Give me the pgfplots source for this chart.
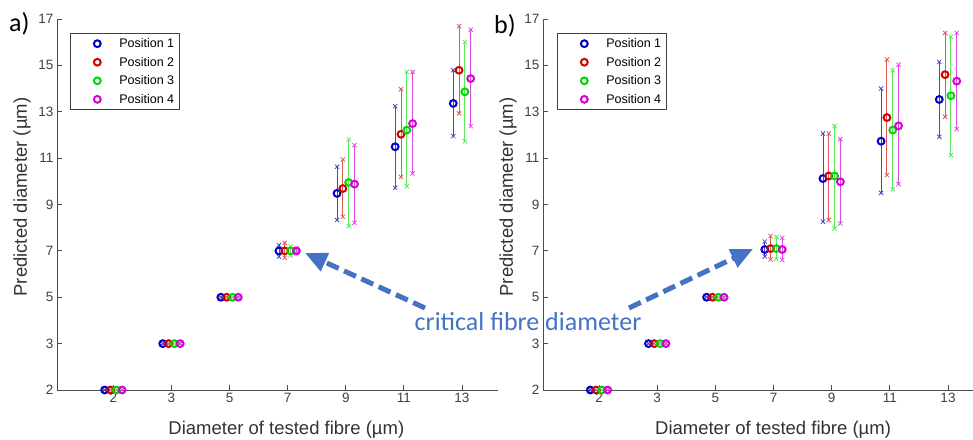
\documentclass[border=0pt]{standalone}
\usepackage{fontspec}
\setmainfont{Liberation Sans}
\newfontfamily\calibri{Carlito}
\usepackage{pgfplots}
\usepackage{pgfplotstable}
\pgfplotsset{compat=1.18}
\usetikzlibrary{arrows.meta}
\definecolor{cB}{RGB}{0,0,200}
\definecolor{cR}{RGB}{215,0,0}
\definecolor{cG}{RGB}{0,215,0}
\definecolor{cM}{RGB}{215,0,215}
\definecolor{eB}{RGB}{70,70,205}
\definecolor{eR}{RGB}{225,90,90}
\definecolor{eG}{RGB}{90,235,90}
\definecolor{eM}{RGB}{225,70,225}
\definecolor{annot}{RGB}{68,114,196}

% Panel a
\pgfplotstableread{
x y ep em
0.85 1 0 0
1.85 3 0 0
2.85 5 0 0
3.85 7 0.25 0.25
4.85 9.48 1.15 1.15
5.85 11.49 1.75 1.77
6.85 13.36 1.43 1.41
}\aB
\pgfplotstableread{
x y ep em
0.95 1 0 0
1.95 3 0 0
2.95 5 0 0
3.95 7 0.35 0.30
4.95 9.69 1.25 1.22
5.95 12.03 1.94 1.84
6.95 14.79 1.90 1.86
}\aR
\pgfplotstableread{
x y ep em
1.05 1 0 0
2.05 3 0 0
3.05 5 0 0
4.05 7 0.20 0.20
5.05 9.95 1.85 1.88
6.05 12.21 2.51 2.42
7.05 13.86 2.15 2.13
}\aG
\pgfplotstableread{
x y ep em
1.15 1 0 0
2.15 3 0 0
3.15 5 0 0
4.15 7 0.10 0.10
5.15 9.88 1.68 1.67
6.15 12.49 2.23 2.15
7.15 14.43 2.11 2.05
}\aM
% Panel b
\pgfplotstableread{
x y ep em
0.85 1 0 0
1.85 3 0 0
2.85 5 0 0
3.85 7.06 0.34 0.30
4.85 10.12 1.94 1.86
5.85 11.73 2.27 2.23
6.85 13.53 1.62 1.61
}\bB
\pgfplotstableread{
x y ep em
0.95 1 0 0
1.95 3 0 0
2.95 5 0 0
3.95 7.10 0.54 0.47
4.95 10.23 1.83 1.90
5.95 12.75 2.50 2.48
6.95 14.60 1.80 1.82
}\bR
\pgfplotstableread{
x y ep em
1.05 1 0 0
2.05 3 0 0
3.05 5 0 0
4.05 7.10 0.50 0.45
5.05 10.23 2.15 2.26
6.05 12.21 2.58 2.56
7.05 13.69 2.54 2.56
}\bG
\pgfplotstableread{
x y ep em
1.15 1 0 0
2.15 3 0 0
3.15 5 0 0
4.15 7.06 0.50 0.45
5.15 9.98 1.84 1.80
6.15 12.39 2.64 2.51
7.15 14.32 2.08 2.07
}\bM

\pgfplotsset{
  fibre/.style={
    scale only axis, height=371pt,
    axis lines=left,
    axis line style={-, draw=black!70, line width=0.8pt},
    tick style={draw=black!70, line width=0.8pt},
    tick align=inside, major tick length=5pt,
    ymin=1, ymax=17, ytick={1,3,5,7,9,11,13,15,17},
    yticklabels={2,3,5,7,9,11,13,15,17},
    xtick={1,2,3,4,5,6,7}, xticklabels={2,3,5,7,9,11,13},
    ticklabel style={font=\fontsize{13.5}{15}\selectfont, text=black!75},
    label style={font=\fontsize{18.5}{21}\selectfont, text=black!80},
    xlabel={Diameter of tested fibre (µm)},
    ylabel={Predicted diameter (µm)},
    clip=false,
    legend cell align=left,
    legend style={draw=black!75, line width=0.6pt, font=\fontsize{12.5}{14}\selectfont,
      row sep=4pt, inner ysep=3pt, anchor=north west},
    legend image code/.code={\path[draw=none] (0pt,0pt) -- (44pt,0pt); \draw[##1, only marks] plot coordinates {(24pt,0pt)};},
  },
  ser/.style 2 args={only marks, mark=o, color=#1,
    mark size=3.4pt, mark options={line width=2pt, draw=#1},
    error bars/.cd, y dir=both, y explicit, error mark=x,
    error bar style={line width=0.9pt, color=#2},
    error mark options={mark size=3pt, line width=0.8pt, color=#2}},
}

\begin{document}
\begin{tikzpicture}[x=1pt,y=1pt]
\begin{axis}[fibre, at={(57pt,-390pt)}, anchor=south west, width=441pt,
  xmin=0.03, xmax=7.62,
  ylabel style={at={(axis description cs:-0.0794,0.52)}, anchor=center},
  xlabel style={at={(axis description cs:0.52,-0.108)}, anchor=center},
  legend style={at={(axis description cs:0.0295,0.962)}}]
\addplot[ser={cB}{eB}] table[x=x,y=y,y error plus=ep,y error minus=em]{\aB};
\addplot[ser={cR}{eR}] table[x=x,y=y,y error plus=ep,y error minus=em]{\aR};
\addplot[ser={cG}{eG}] table[x=x,y=y,y error plus=ep,y error minus=em]{\aG};
\addplot[ser={cM}{eM}] table[x=x,y=y,y error plus=ep,y error minus=em]{\aM};
\legend{Position 1,Position 2,Position 3,Position 4}
\end{axis}
\begin{axis}[fibre, at={(543pt,-390pt)}, anchor=south west, width=430pt,
  xmin=0.037, xmax=7.43,
  ylabel style={at={(axis description cs:-0.0814,0.52)}, anchor=center},
  xlabel style={at={(axis description cs:0.535,-0.108)}, anchor=center},
  legend style={at={(axis description cs:0.0326,0.962)}}]
\addplot[ser={cB}{eB}] table[x=x,y=y,y error plus=ep,y error minus=em]{\bB};
\addplot[ser={cR}{eR}] table[x=x,y=y,y error plus=ep,y error minus=em]{\bR};
\addplot[ser={cG}{eG}] table[x=x,y=y,y error plus=ep,y error minus=em]{\bG};
\addplot[ser={cM}{eM}] table[x=x,y=y,y error plus=ep,y error minus=em]{\bM};
\legend{Position 1,Position 2,Position 3,Position 4}
\end{axis}
% annotations
\node[anchor=base west, font=\calibri\fontsize{26}{28}\selectfont, inner sep=0pt] at (9,-31) {a)};
\node[anchor=base west, font=\calibri\fontsize{26}{28}\selectfont, inner sep=0pt] at (494,-33) {b)};
\draw[annot, line width=5pt, dash pattern=on 13pt off 6pt, -{Triangle[length=22pt,width=19pt]}] (425,-308) -- (305,-253);
\draw[annot, line width=5pt, dash pattern=on 13pt off 6pt, -{Triangle[length=22pt,width=19pt]}] (629,-308) -- (753,-249);
\node[anchor=base, font=\calibri\fontsize{26}{28}\selectfont, text=annot, inner sep=0pt] at (528,-330) {critical fibre diameter};
\pgfresetboundingbox
\useasboundingbox (0,0) rectangle (973,-439);
\end{tikzpicture}
\end{document}
